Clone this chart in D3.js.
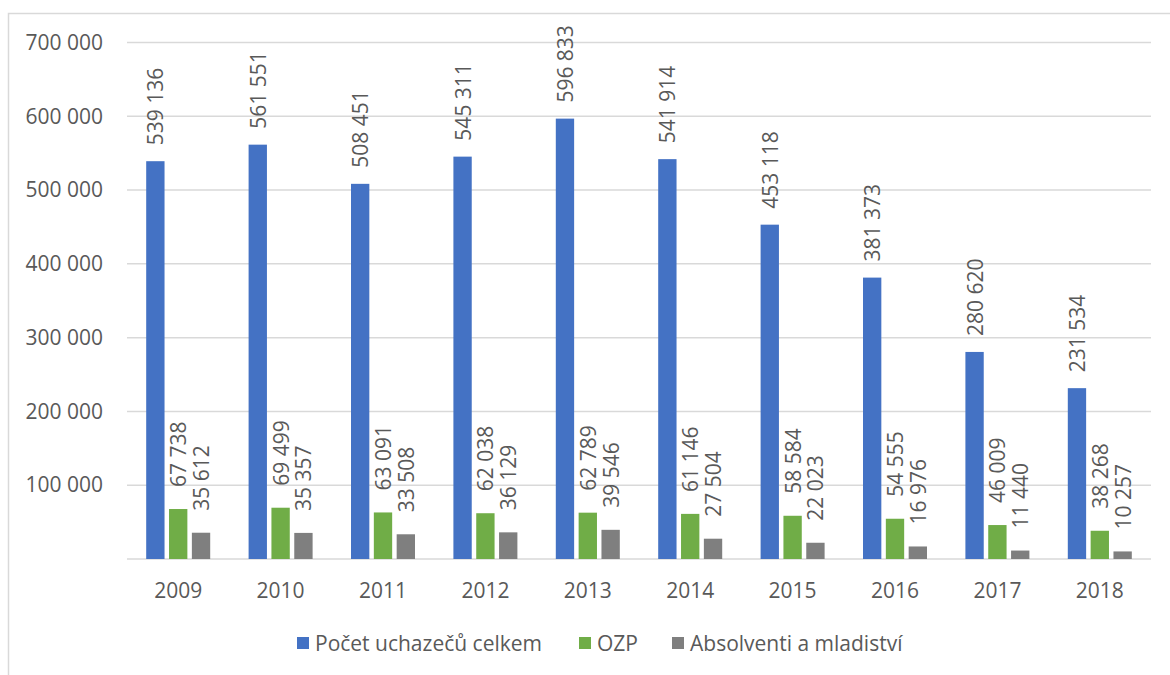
<!DOCTYPE html>
<html lang="cs">
<head>
<meta charset="utf-8">
<script src="https://cdn.jsdelivr.net/npm/d3@7"></script>
<style>
  html, body { margin: 0; padding: 0; background: #ffffff; }
  svg { display: block; font-family: "Open Sans", sans-serif; }
</style>
</head>
<body>
<svg id="chart" width="1170" height="675"></svg>
<script>
// Roky a počty uchazečů o zaměstnání
const years = ["2009", "2010", "2011", "2012", "2013", "2014", "2015", "2016", "2017", "2018"];
const seriesNames = ["Počet uchazečů celkem", "OZP", "Absolventi a mladiství"];
const celkem = [539136, 561551, 508451, 545311, 596833, 541914, 453118, 381373, 280620, 231534];
const ozp = [67738, 69499, 63091, 62038, 62789, 61146, 58584, 54555, 46009, 38268];
const absolventi = [35612, 35357, 33508, 36129, 39546, 27504, 22023, 16976, 11440, 10257];
const yTicks = [100000, 200000, 300000, 400000, 500000, 600000, 700000];

const colors = ["#4472C4", "#70AD47", "#7F7F7F"];
const labelGap = [16, 22, 22];
const textColor = "#595959";
const gridColor = "#d9d9d9";

const svg = d3.select("#chart");

// Thousands separated by a space
const fmt = d3.formatLocale({ decimal: ",", thousands: " ", grouping: [3], currency: ["", ""] }).format(",d");

const seriesValues = [celkem, ozp, absolventi];
const data = years.map((y, i) => ({
  year: y,
  values: seriesNames.map((s, k) => ({ series: s, k, value: seriesValues[k][i] }))
}));

// Outer frame
svg.append("rect")
  .attr("x", 8.5).attr("y", 13.5)
  .attr("width", 1200).attr("height", 700)
  .attr("fill", "none").attr("stroke", gridColor).attr("stroke-width", 1.5);

const x0 = d3.scaleBand().domain(years).range([127, 1151]).padding(0);
const groupW = x0.bandwidth() * 0.625;
const x1 = d3.scaleBand().domain(seriesNames)
  .range([(x0.bandwidth() - groupW) / 2, (x0.bandwidth() + groupW) / 2])
  .paddingInner(0.197).paddingOuter(0);
const y = d3.scaleLinear().domain([0, 700000]).range([559, 42.5]);

// Gridlines and baseline
svg.append("g").selectAll("line")
  .data([0, ...yTicks])
  .join("line")
  .attr("x1", 127).attr("x2", 1151)
  .attr("y1", d => y(d)).attr("y2", d => y(d))
  .attr("stroke", gridColor).attr("stroke-width", 1.5);

// Y axis labels
const yAxis = svg.append("g")
  .attr("transform", "translate(103,0)")
  .call(d3.axisLeft(y).tickValues(yTicks).tickFormat(fmt).tickSize(0).tickPadding(0));
yAxis.select(".domain").remove();
yAxis.selectAll("text")
  .attr("fill", textColor).attr("font-size", 21)
  .attr("font-family", "'Open Sans', sans-serif");

// X axis labels
const xAxis = svg.append("g")
  .attr("transform", "translate(0,559)")
  .call(d3.axisBottom(x0).tickSize(0).tickPadding(0));
xAxis.select(".domain").remove();
xAxis.selectAll("text")
  .attr("y", 0).attr("dy", null)
  .attr("transform", "translate(0,31)")
  .attr("dominant-baseline", "central")
  .attr("fill", textColor).attr("font-size", 21)
  .attr("font-family", "'Open Sans', sans-serif");

// Bars and value labels
const groups = svg.append("g").selectAll("g")
  .data(data)
  .join("g")
  .attr("transform", d => `translate(${x0(d.year)},0)`);

groups.selectAll("rect")
  .data(d => d.values)
  .join("rect")
  .attr("x", d => x1(d.series))
  .attr("width", x1.bandwidth())
  .attr("y", d => y(d.value))
  .attr("height", d => y(0) - y(d.value))
  .attr("fill", d => colors[d.k]);

groups.selectAll("text")
  .data(d => d.values)
  .join("text")
  .attr("transform", d => `translate(${x1(d.series) + x1.bandwidth() / 2},${y(d.value) - labelGap[d.k]}) rotate(-90)`)
  .attr("text-anchor", "start")
  .attr("dominant-baseline", "central")
  .attr("fill", textColor)
  .attr("font-size", 21)
  .text(d => fmt(d.value));

// Legend
const legendX = [297, 579, 672];
const legend = svg.append("g").selectAll("g")
  .data(seriesNames)
  .join("g")
  .attr("transform", (d, i) => `translate(${legendX[i]},643)`);
legend.append("rect")
  .attr("x", 0).attr("y", -6)
  .attr("width", 12).attr("height", 12)
  .attr("fill", (d, i) => colors[i]);
legend.append("text")
  .attr("x", 18).attr("y", 0)
  .attr("dominant-baseline", "central")
  .attr("fill", textColor)
  .attr("font-size", 21)
  .text(d => d);
</script>
</body>
</html>
